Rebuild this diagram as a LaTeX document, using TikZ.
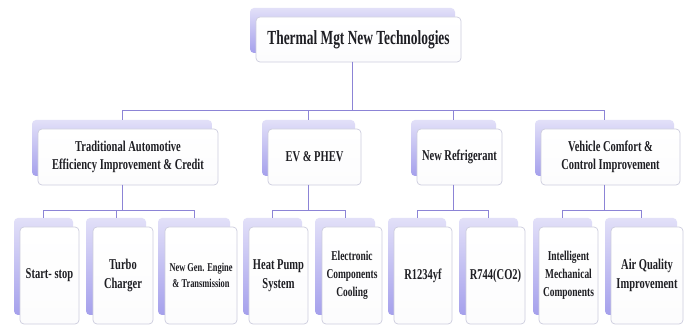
\documentclass[tikz,border=0pt]{standalone}
\usepackage{fontspec}
\setmainfont{Liberation Serif}[FakeStretch=0.70]
\newfontfamily\titlefont{Liberation Serif}[FakeStretch=0.67]
\definecolor{conncol}{RGB}{140,132,214}
\definecolor{backtop}{RGB}{226,224,248}
\definecolor{backbot}{RGB}{165,160,236}
\definecolor{frontline}{RGB}{205,205,222}
\definecolor{textcol}{RGB}{30,30,35}
\newcommand{\pairbox}[9]{%
  \node[backbox, minimum width=#4pt, minimum height=#5pt] (#1b) at (#2,#3) {};
  \node[frontbox, minimum width=#4pt, minimum height=#5pt, font=#8] (#1) at ({#2+#6},{#3+#7}) {#9};
}
\begin{document}
\begin{tikzpicture}[x=1pt,y=-1pt,
  backbox/.style={rectangle, rounded corners=4pt, anchor=north west, inner sep=0pt, outer sep=0pt,
    top color=backtop, bottom color=backbot, draw=none},
  frontbox/.style={rectangle, rounded corners=4pt, anchor=north west, inner sep=0pt, outer sep=0pt,
    top color=white, bottom color=white!94!frontline, draw=frontline, line width=0.7pt,
    align=center, text=textcol},
  conn/.style={draw=conncol, line width=1pt}]
\useasboundingbox[fill=white] (0,0) rectangle (691,328);

% top
\pairbox{T}{250}{8}{205}{45}{6}{9}{\titlefont\fontsize{20}{24}\selectfont\bfseries}{Thermal Mgt New Technologies}

% level 2
\pairbox{A}{32}{120}{180}{56}{6}{9}{\fontsize{15}{18}\selectfont\bfseries}{Traditional Automotive\\Efficiency Improvement \& Credit}
\pairbox{B}{262}{120}{93}{56}{6}{9}{\fontsize{15}{18}\selectfont\bfseries}{EV \& PHEV}
\pairbox{C}{411}{120}{85}{56}{6}{9}{\fontsize{15}{18}\selectfont\bfseries}{New Refrigerant}
\pairbox{D}{535}{120}{139}{56}{6}{9}{\fontsize{15}{18}\selectfont\bfseries}{Vehicle Comfort \&\\Control Improvement}

% level 3
\pairbox{SS}{14}{218}{59}{97}{6}{9}{\fontsize{15}{19}\selectfont\bfseries}{Start- stop}
\pairbox{TC}{86}{218}{60}{97}{7}{9}{\fontsize{15}{19}\selectfont\bfseries}{Turbo\\Charger}
\pairbox{NG}{158}{218}{72}{97}{7}{9}{\fontsize{12}{16}\selectfont\bfseries}{New Gen. Engine\\\& Transmission}
\pairbox{HP}{243}{218}{59}{97}{6}{9}{\fontsize{15}{19}\selectfont\bfseries}{Heat Pump\\System}
\pairbox{EC}{315}{218}{60}{97}{7}{9}{\fontsize{13.5}{18}\selectfont\bfseries}{Electronic\\Components\\Cooling}
\pairbox{RA}{388}{218}{58}{97}{6}{9}{\fontsize{15}{19}\selectfont\bfseries}{R1234yf}
\pairbox{RB}{459}{218}{59}{97}{7}{9}{\fontsize{15}{19}\selectfont\bfseries}{R744(CO2)}
\pairbox{IM}{533}{218}{59}{97}{6}{9}{\fontsize{13.5}{18}\selectfont\bfseries}{Intelligent\\Mechanical\\Components}
\pairbox{AQ}{605}{218}{72}{97}{6}{9}{\fontsize{15}{19}\selectfont\bfseries}{Air Quality\\Improvement}

% bus coordinates
\coordinate (bus0) at (0,111);
\coordinate (busA) at (0,211);

% connectors
\foreach \c in {A,B,C,D}{
  \draw[conn] (Tb.south |- T.south) -- (Tb.south |- bus0) -| (\c b.north);
}
\foreach \c in {SS,TC,NG}{
  \draw[conn] (Ab.south |- A.south) -- (Ab.south |- busA) -| (\c b.north);
}
\foreach \c in {HP,EC}{
  \draw[conn] (Bb.south |- B.south) -- (Bb.south |- busA) -| (\c b.north);
}
\foreach \c in {RA,RB}{
  \draw[conn] (Cb.south |- C.south) -- (Cb.south |- busA) -| (\c b.north);
}
\foreach \c in {IM,AQ}{
  \draw[conn] (Db.south |- D.south) -- (Db.south |- busA) -| (\c b.north);
}
\end{tikzpicture}
\end{document}
